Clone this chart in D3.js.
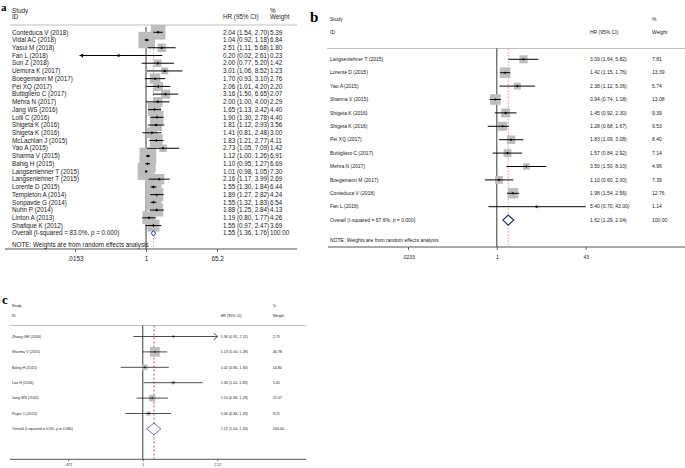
<!DOCTYPE html>
<html><head><meta charset="utf-8">
<script src="https://cdn.jsdelivr.net/npm/d3@7"></script>
<style>body{margin:0;background:#fff}svg{display:block}text{font-family:"Liberation Sans",Arial,sans-serif}</style>
</head><body><svg id="chart" width="685" height="468"></svg>
<script>
// ---------- Panel a data ----------
const studiesA = ["Conteduca V (2018)","Vidal AC (2018)","Yasui M (2018)","Fan L (2018)","Sun Z (2018)","Uemura K (2017)","Boegemann M (2017)","Pei XQ (2017)","Buttigliero C (2017)","Mehra N (2017)","Jang WS (2016)","Lolli C (2016)","Shigeta K (2016)","Shigeta K (2016)","McLachlan J (2015)","Yao A (2015)","Sharma V (2015)","Bahig H (2015)","Langsenlehner T (2015)","Langsenlehner T (2015)","Lorente D (2015)","Templeton A (2014)","Sonpavde G (2014)","Nuhn P (2014)","Linton A (2013)","Shafique K (2012)"];
const hrA = [2.04,1.04,2.51,0.20,2.00,3.01,1.70,2.06,3.16,2.00,1.65,1.90,1.81,1.41,1.83,2.73,1.12,1.10,1.01,2.16,1.55,1.89,1.55,1.88,1.19,1.55];
const loA = [1.54,0.92,1.11,0.02,0.77,1.06,0.93,1.01,1.50,1.00,1.13,1.30,1.12,0.81,1.21,1.05,1.00,0.95,0.98,1.17,1.30,1.27,1.32,1.25,0.80,0.97];
const hiA = [2.70,1.18,5.68,2.61,5.20,8.52,3.10,4.20,6.65,4.00,2.42,2.78,2.93,2.48,2.77,7.09,1.26,1.27,1.05,3.99,1.84,2.82,1.83,2.84,1.77,2.47];
const weightA = [5.39,6.84,1.80,0.23,1.42,1.23,2.76,2.20,2.07,2.29,4.40,4.40,3.56,3.00,4.11,1.42,6.91,6.69,7.30,2.69,6.44,4.24,6.54,4.13,4.26,3.69];
const overallA = [1.55, 1.36, 1.76];   // HR, lower, upper
const hetA = [83.0, 0.000];           // I-squared, p
const ticksA = [0.0153, 1, 65.2];
const arrowLoA = [3];                  // CI truncated on the left (Fan L)

// ---------- Panel b data ----------
const studiesB = ["Langsenlehner T (2015)","Lorente D (2015)","Yao A (2015)","Sharma V (2015)","Shigeta K (2016)","Shigeta K (2016)","Pei XQ (2017)","Buttigliero C (2017)","Mehra N (2017)","Boegemann M (2017)","Conteduca V (2018)","Fan L (2018)"];
const hrB = [3.09,1.42,2.38,0.94,1.45,1.28,1.83,1.57,3.50,1.10,1.98,5.40];
const loB = [1.64,1.15,1.12,0.74,0.92,0.68,1.09,0.84,1.50,0.60,1.54,0.70];
const hiB = [5.82,1.76,5.06,1.18,2.30,1.67,3.08,2.92,8.10,2.00,2.56,43.00];
const weightB = [7.81,13.39,5.74,13.08,9.39,9.53,8.40,7.14,4.96,7.39,12.76,1.14];
const overallB = [1.62, 1.29, 2.04];
const hetB = [67.6, 0.000];
const ticksB = [0.0233, 1, 43];

// ---------- Panel c data ----------
const studiesC = ["Zhang GM (2016)","Sharma V (2015)","Bahig H (2015)","Lee H (2016)","Jang WS (2016)","Peyer C (2013)"];
const hrC = [1.36,1.13,1.02,1.36,1.10,1.06];
const loC = [0.91,1.00,0.80,1.01,0.94,0.84];
const hiC = [2.12,1.28,1.30,1.83,1.29,1.33];
const weightC = [2.75,46.78,14.80,5.45,21.07,9.22];
const overallC = [1.12, 1.04, 1.20];
const hetC = [0.0, 0.580];
const ticksC = [0.472, 1, 2.12];
const arrowHiC = [0];                  // CI truncated on the right (Zhang GM)

const noteText = "NOTE: Weights are from random effects analysis";

const svg = d3.select("#chart");
const fmt2 = d3.format(".2f");
const tickFmt = v => v < 1 ? String(v).replace(/^0/, "") : String(v);

function forest(P, D) {
  const g = svg.append("g");
  const x = d3.scaleLog().domain([D.ticks[0], D.ticks[D.ticks.length - 1]]).range(P.xr);
  const yRow = i => P.y0 + i * P.dy;
  const n = D.studies.length;
  const idx = d3.range(n);
  const txt = (s, xx, yy) => g.append("text").attr("x", xx).attr("y", yy).attr("dy", "0.35em")
    .attr("font-size", P.fs).attr("fill", "#1a1a1a").text(s);

  // panel letter
  g.append("text").attr("x", P.letter[0]).attr("y", P.letter[1]).attr("font-size", P.letterFs)
    .attr("font-weight", "bold").style("font-family", "'Liberation Serif','Times New Roman',serif")
    .attr("fill", "#000").text(P.name);

  // headers
  txt("Study", P.labelX, P.hy1);
  txt("ID", P.labelX, P.hy2);
  txt("HR (95% CI)", P.hrX, P.hy2);
  txt("%", P.wX, P.hy1);
  txt("Weight", P.wX, P.hy2);

  // header rule
  g.append("line").attr("x1", P.ruleX[0]).attr("x2", P.ruleX[1]).attr("y1", P.ruleY).attr("y2", P.ruleY)
    .attr("stroke", "#b8b8b8").attr("stroke-width", 0.9);

  // axis
  g.append("line").attr("x1", P.axisX[0]).attr("x2", P.axisX[1]).attr("y1", P.axisY).attr("y2", P.axisY)
    .attr("stroke", "#555").attr("stroke-width", 1);
  const ax = g.append("g").attr("transform", `translate(0,${P.axisY})`)
    .call(d3.axisBottom(x).tickValues(D.ticks).tickFormat(tickFmt).tickSize(P.tick));
  ax.select(".domain").remove();
  ax.selectAll("line").attr("stroke", "#444").attr("stroke-width", 0.8);
  ax.selectAll("text").attr("y", P.tlY - P.axisY).attr("dy", "0.35em").attr("font-size", P.fs)
    .attr("fill", "#1a1a1a").style("font-family", "'Liberation Sans',Arial,sans-serif");

  // null line and overall dashed line
  g.append("line").attr("x1", x(1)).attr("x2", x(1)).attr("y1", P.ruleY + P.nullTop).attr("y2", P.axisY)
    .attr("stroke", "#222").attr("stroke-width", 0.9);
  g.append("line").attr("x1", x(D.overall[0])).attr("x2", x(D.overall[0]))
    .attr("y1", P.ruleY + P.nullTop).attr("y2", P.axisY)
    .attr("stroke", P.dashColor).attr("stroke-width", 0.9).attr("stroke-dasharray", P.dash);

  // weight boxes
  g.selectAll("rect.box").data(idx).join("rect").attr("class", "box")
    .attr("x", i => x(D.hr[i]) - P.k * Math.sqrt(D.w[i]) / 2)
    .attr("y", i => yRow(i) - P.k * Math.sqrt(D.w[i]) / 2)
    .attr("width", i => P.k * Math.sqrt(D.w[i]))
    .attr("height", i => P.k * Math.sqrt(D.w[i]))
    .attr("fill", "#bdbdbd");

  // CI lines
  const xmin = x.domain()[0], xmax = x.domain()[1];
  g.selectAll("line.ci").data(idx).join("line").attr("class", "ci")
    .attr("x1", i => x(Math.max(D.lo[i], xmin))).attr("x2", i => x(Math.min(D.hi[i], xmax)))
    .attr("y1", yRow).attr("y2", yRow)
    .attr("stroke", "#000").attr("stroke-width", P.lw);

  // arrows
  (D.arrowLo || []).forEach(i => {
    const xx = x(Math.max(D.lo[i], xmin)), yy = yRow(i);
    g.append("path").attr("d", `M${xx},${yy}L${xx + P.ah},${yy - P.ah * 0.6}L${xx + P.ah},${yy + P.ah * 0.6}Z`)
      .attr("fill", "#000");
  });
  (D.arrowHi || []).forEach(i => {
    const xx = x(Math.min(D.hi[i], xmax)), yy = yRow(i);
    g.append("path").attr("d", `M${xx - P.ah},${yy - P.ah}L${xx},${yy}L${xx - P.ah},${yy + P.ah}`)
      .attr("fill", "none").attr("stroke", "#000").attr("stroke-width", P.lw);
  });

  // point estimates
  g.selectAll("path.pt").data(idx).join("path").attr("class", "pt")
    .attr("d", i => {
      const cx = x(D.hr[i]), cy = yRow(i), r = P.pr;
      return `M${cx - r},${cy}L${cx},${cy - r}L${cx + r},${cy}L${cx},${cy + r}Z`;
    }).attr("fill", "#000");

  // study labels and numbers
  idx.forEach(i => {
    txt(D.studies[i], P.labelX, yRow(i));
    txt(`${fmt2(D.hr[i])} (${fmt2(D.lo[i])}, ${fmt2(D.hi[i])})`, P.hrX, yRow(i));
    txt(fmt2(D.w[i]), P.wX, yRow(i));
  });

  // overall
  const yo = yRow(n);
  const [oh, ol, ou] = D.overall;
  g.append("path")
    .attr("d", `M${x(ol)},${yo}L${x(oh)},${yo - P.dh}L${x(ou)},${yo}L${x(oh)},${yo + P.dh}Z`)
    .attr("fill", "#fff").attr("stroke", P.diamondColor).attr("stroke-width", P.dw);
  txt(`Overall  (I-squared = ${D.het[0].toFixed(1)}%, p = ${D.het[1].toFixed(3)})`, P.labelX, yo);
  txt(`${fmt2(oh)} (${fmt2(ol)}, ${fmt2(ou)})`, P.hrX, yo);
  txt("100.00", P.wX, yo);

  if (P.noteY) txt(noteText, P.labelX, P.noteY);
}

forest({
  name: "a", letter: [1, 10.5], letterFs: 11,
  xr: [75, 217], y0: 32.3, dy: 7.73, fs: 6.3,
  labelX: 12, hrX: 223, wX: 270, hy1: 10.5, hy2: 17,
  ruleX: [10, 297], ruleY: 25, axisX: [5, 297], axisY: 249, tlY: 258.5, tick: 3,
  noteY: 244.5, nullTop: 2, k: 6.3, lw: 1, ah: 3.5, pr: 1.5, dh: 2.8, dw: 1,
  dashColor: "#d98a8a", dash: "1.6,1.6", diamondColor: "#1c2a8c"
}, { studies: studiesA, hr: hrA, lo: loA, hi: hiA, w: weightA, overall: overallA, het: hetA, ticks: ticksA, arrowLo: arrowLoA });

forest({
  name: "b", letter: [310, 22], letterFs: 15,
  xr: [408, 585.7], y0: 59.3, dy: 13.4, fs: 5,
  labelX: 330, hrX: 590, wX: 652, hy1: 19, hy2: 32.5,
  ruleX: [327, 685], ruleY: 48.5, axisX: [328, 685], axisY: 247, tlY: 257.7, tick: 3,
  noteY: 240.5, nullTop: 0, k: 2.92, lw: 1, ah: 3.5, pr: 1.3, dh: 5, dw: 1.2,
  dashColor: "#d98a8a", dash: "1.6,1.6", diamondColor: "#1c2a8c"
}, { studies: studiesB, hr: hrB, lo: loB, hi: hiB, w: weightB, overall: overallB, het: hetB, ticks: ticksB });

forest({
  name: "c", letter: [2, 304], letterFs: 13,
  xr: [68.3, 217.3], y0: 336.5, dy: 15.4, fs: 3.7,
  labelX: 12, hrX: 220.7, wX: 272.7, hy1: 305.5, hy2: 316,
  ruleX: [10, 306], ruleY: 325.5, axisX: [10, 306], axisY: 459.3, tlY: 464.5, tick: 2,
  noteY: null, nullTop: 0, k: 1.43, lw: 0.7, ah: 3.5, pr: 0.9, dh: 5.8, dw: 0.8,
  dashColor: "#d33", dash: "2,2", diamondColor: "#4a4ac4"
}, { studies: studiesC, hr: hrC, lo: loC, hi: hiC, w: weightC, overall: overallC, het: hetC, ticks: ticksC, arrowHi: arrowHiC });
</script>
</body></html>
